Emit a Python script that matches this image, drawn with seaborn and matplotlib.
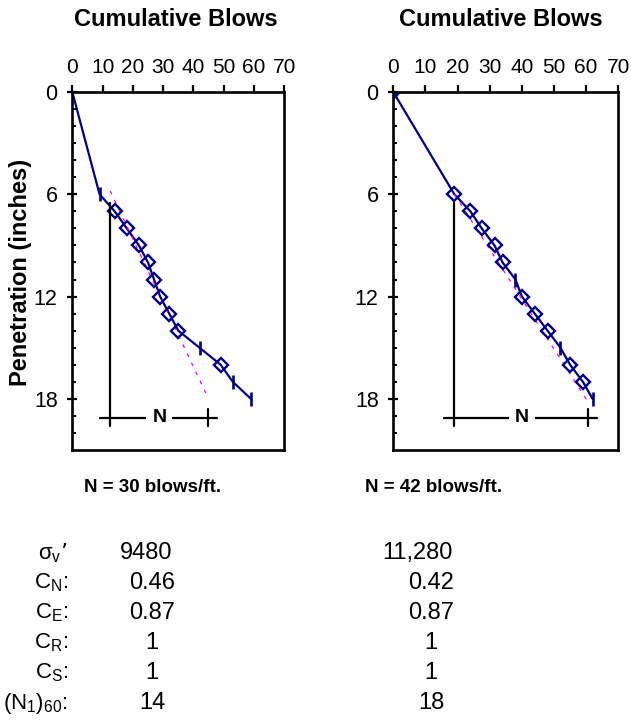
import numpy as np
import pandas as pd
import seaborn as sns
import matplotlib.pyplot as plt
from matplotlib.ticker import MultipleLocator, FixedLocator

# penetration (inches) vs cumulative blows, two SPT drives
depth = [0, 6, 7, 8, 9, 10, 11, 12, 13, 14, 15, 16, 17, 18]
left_blows = [0, 9, 14, 18, 22, 25, 27, 29, 32, 35, 42, 49, 53, 59]
right_blows = [0, 19, 24, 27.5, 31.5, 34, 38, 40, 44, 48, 52, 55, 59, 62]

left_diamonds = [7, 8, 9, 10, 11, 12, 13, 14, 16]
left_ticks = [6, 15, 17, 18]
right_diamonds = [0, 6, 7, 8, 9, 10, 12, 13, 14, 16, 17]
right_ticks = [11, 15, 18]

# dashed trend lines (blows, depth)
left_trend_x = [12.5, 45]
left_trend_y = [5.8, 18]
right_trend_x = [19, 61]
right_trend_y = [6, 18.3]

# N measurement bars: start blows, end blows
left_n = [12.4, 44.7]
right_n = [19, 60.5]

n_labels = ["N = 30 blows/ft.", "N = 42 blows/ft."]

row_labels = ["σ$_\\mathregular{v}$’", "C$_\\mathregular{N}$:", "C$_\\mathregular{E}$:",
              "C$_\\mathregular{R}$:", "C$_\\mathregular{S}$:",
              "(N$_\\mathregular{1}$)$_\\mathregular{60}$:"]
left_values = ["9480", "0.46", "0.87", "1", "1", "14"]
right_values = ["11,280", "0.42", "0.87", "1", "1", "18"]

sns.set_theme(style="white")
plt.rcParams["font.family"] = ["Liberation Sans", "DejaVu Sans"]
plt.rcParams["mathtext.default"] = "regular"
plt.rcParams["text.color"] = "black"
plt.rcParams["xtick.color"] = "black"
plt.rcParams["ytick.color"] = "black"

navy = "#000080"
W, H = 631, 723
fig = plt.figure(figsize=(W / 100, H / 100), dpi=100, facecolor="white")


def px(x, y, w, h):
    return [x / W, 1 - (y + h) / H, w / W, h / H]


def draw_panel(ax, blows, diamonds, ticks, tx, ty, nbar):
    df = pd.DataFrame({"blows": blows, "depth": depth})
    sns.lineplot(data=df, x="blows", y="depth", sort=False, estimator=None,
                 color=navy, lw=1.6, ax=ax)
    sns.lineplot(x=tx, y=ty, sort=False, estimator=None, color="#FF00FF",
                 lw=0.9, dashes=False, ax=ax, linestyle=(0, (3, 5)))
    dd = df[df["depth"].isin(diamonds)]
    ax.plot(dd["blows"], dd["depth"], ls="none", marker="D", ms=7.5,
            mfc="none", mec=navy, mew=1.7)
    dt = df[df["depth"].isin(ticks)]
    ax.plot(dt["blows"], dt["depth"], ls="none", marker="|", ms=9.5,
            mec=navy, mew=1.9)

    # N bar
    ybar = 19.1
    ax.plot([nbar[0], nbar[0]], [6.5, 19.6], color="black", lw=1.6)
    ax.plot([nbar[1], nbar[1]], [18.6, 19.6], color="black", lw=1.6)
    ax.plot([nbar[0] - 3.3, nbar[1] + 3.0], [ybar, ybar], color="black", lw=1.6)
    ax.text((nbar[0] + nbar[1]) / 2 + 0.2, ybar, "N", ha="center", va="center",
            fontsize=14, fontweight="bold", color="black",
            bbox=dict(boxstyle="square,pad=0.3", fc="white", ec="none"))

    ax.set_xlim(0, 70)
    ax.set_ylim(21, 0)
    ax.xaxis.tick_top()
    ax.xaxis.set_major_locator(MultipleLocator(10))
    ax.yaxis.set_major_locator(FixedLocator([0, 6, 12, 18]))
    ax.yaxis.set_minor_locator(FixedLocator([d for d in range(1, 21) if d % 6]))
    ax.tick_params(axis="x", which="major", direction="out", length=5, width=1.6,
                   pad=6, labelsize=15, colors="black")
    ax.tick_params(axis="y", which="major", direction="inout", length=7, width=1.6,
                   pad=7, labelsize=15.5, colors="black", left=True)
    ax.tick_params(axis="y", which="minor", direction="in", length=3, width=1.4,
                   left=True)
    ax.set_xlabel("")
    ax.set_ylabel("")
    for s in ax.spines.values():
        s.set_visible(True)
        s.set_color("black")
        s.set_linewidth(1.9)
    ax.set_facecolor("white")


ax1 = fig.add_axes(px(72.3, 92, 212, 358))
draw_panel(ax1, left_blows, left_diamonds, left_ticks,
           left_trend_x, left_trend_y, left_n)
ax2 = fig.add_axes(px(393.3, 92, 225, 358))
draw_panel(ax2, right_blows, right_diamonds, right_ticks,
           right_trend_x, right_trend_y, right_n)

fig.text(176 / W, 1 - 20 / H, "Cumulative Blows", ha="center", va="center",
         fontsize=17, fontweight="bold")
fig.text(501 / W, 1 - 20 / H, "Cumulative Blows", ha="center", va="center",
         fontsize=17, fontweight="bold")
fig.text(20.5 / W, 1 - 272 / H, "Penetration (inches)", rotation=90,
         ha="center", va="center", fontsize=17, fontweight="bold")

fig.text(153 / W, 1 - 487 / H, n_labels[0], ha="center", va="center",
         fontsize=13.5, fontweight="bold")
fig.text(434 / W, 1 - 487 / H, n_labels[1], ha="center", va="center",
         fontsize=13.5, fontweight="bold")

for i, lab in enumerate(row_labels):
    y = 1 - (553 + 30 * i) / H
    fig.text(68 / W, y, lab, ha="right", va="center", fontsize=16)
    if i == 0:
        fig.text(172 / W, y, left_values[i], ha="right", va="center", fontsize=17)
        fig.text(453 / W, y, right_values[i], ha="right", va="center", fontsize=17)
    else:
        fig.text(152 / W, y, left_values[i], ha="center", va="center", fontsize=17)
        fig.text(431 / W, y, right_values[i], ha="center", va="center", fontsize=17)

fig.savefig("out.png", dpi=100, facecolor="white")
